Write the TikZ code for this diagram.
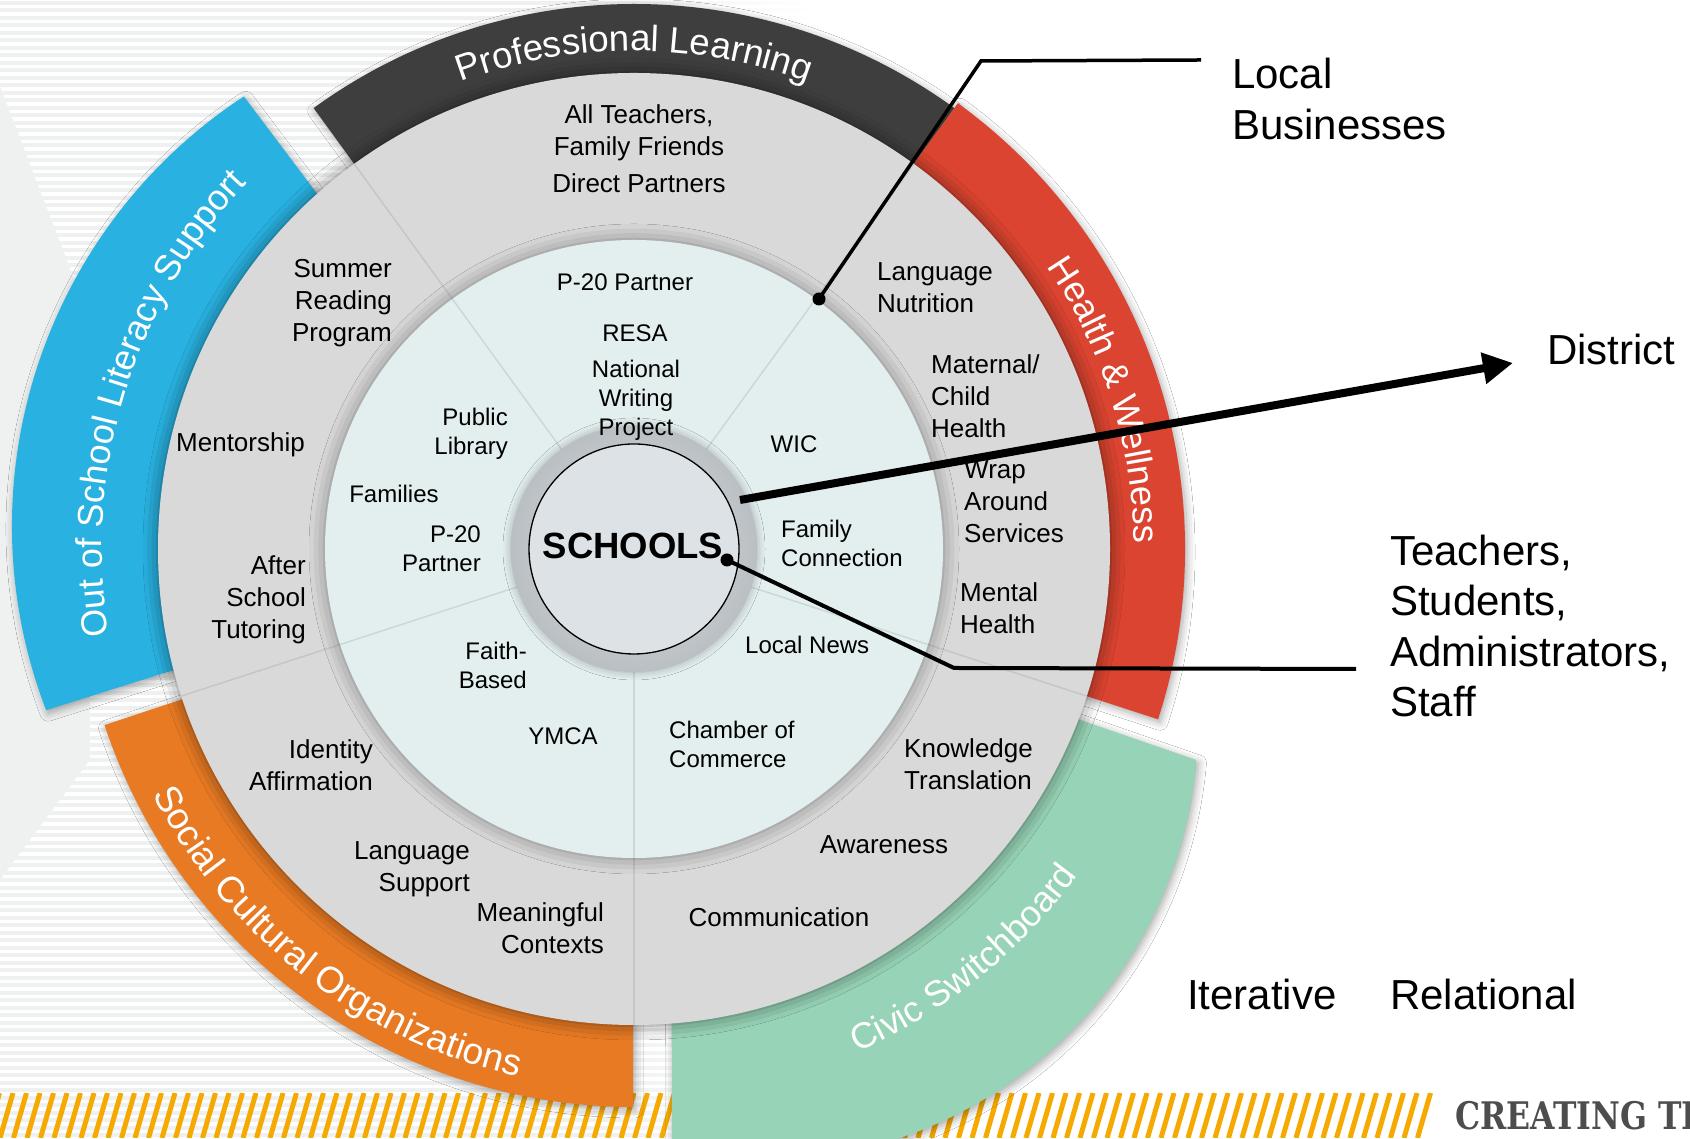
\documentclass[tikz,border=0pt]{standalone}
\usepackage{fontspec}
\setmainfont{Liberation Sans}
\newfontfamily\slabfont{DejaVu Serif}
\usetikzlibrary{calc,decorations.text,arrows.meta,shadows.blur}
\definecolor{darkband}{HTML}{3E3E3E}
\definecolor{redband}{HTML}{DA4430}
\definecolor{blueband}{HTML}{29B1E1}
\definecolor{orangeband}{HTML}{E87A23}
\definecolor{greenband}{HTML}{97D3B6}
\definecolor{ringgray}{HTML}{D9D9D9}
\definecolor{ringline}{HTML}{C6C6C6}
\definecolor{palefill}{HTML}{E3EEEE}
\definecolor{paleline}{HTML}{CCD8D8}
\definecolor{halogray}{HTML}{B9BFC2}
\definecolor{schoolfill}{HTML}{DCE2E5}
\definecolor{stripecol}{HTML}{F6A900}
\definecolor{bgflat}{HTML}{EFF1F0}
\definecolor{creategray}{HTML}{4D4D4D}
\begin{document}
\begin{tikzpicture}[x=1pt,y=1pt,
  outerlbl/.style={inner sep=0pt, font=\fontsize{26}{32}\selectfont},
  innerlbl/.style={inner sep=0pt, font=\fontsize{24}{29}\selectfont},
  sidelbl/.style={inner sep=0pt, font=\fontsize{42}{50.5}\selectfont, align=left, anchor=west},
  bandshadow/.style={blur shadow={shadow xshift=2pt, shadow yshift=-3pt, shadow blur radius=8pt, shadow opacity=35}},
  connector/.style={black, line width=3.5pt},
  dotmark/.style={circle, fill=black, inner sep=0pt, minimum size=13pt},
  bandtext/.style={decorate, decoration={text along path, text align=center, text color=white, text={#1}}},
]
\useasboundingbox (0,0) rectangle (1690,1139);
\clip (0,0) rectangle (1690,1139);
\fill[white] (0,0) rectangle (1690,1139);
% left background
\fill[bgflat] (0,0) rectangle (600,1139);
\shade[left color=bgflat, right color=white] (600,0) rectangle (820,1139);
\begin{scope}
  \clip (0,1053) -- (0,1139) -- (820,1139) -- (820,0) -- (0,0) -- (0,259) -- (90,379) -- (90,819) -- cycle;
  \foreach \k in {0,...,152} \draw[white, line width=3.2pt] (0,\k*7.5) -- (820,\k*7.5);
\end{scope}
% bottom stripes bar
\begin{scope}
  \clip (0,1) -- (1425,1) -- (1438,46) -- (0,46) -- cycle;
  \foreach \i in {-2,...,110} \draw[stripecol, line width=5pt] (\i*13.5,1) -- ++(13,45);
\end{scope}
\coordinate (M) at (634,590);
\coordinate (Cb) at (526,613);
\coordinate (Cg) at (760,416);
% coloured bands
\fill[darkband, bandshadow] ($(M)+(54:470)$) arc[start angle=54, end angle=126, radius=470] -- ($(M)+(126:545)$) arc[start angle=126, end angle=54, radius=545] -- cycle;
\fill[redband, bandshadow] ($(M)+(-18:470)$) arc[start angle=-18, end angle=54, radius=470] -- ($(M)+(54:551)$) arc[start angle=54, end angle=-18, radius=551] -- cycle;
\fill[blueband, bandshadow] ($(M)+(131.8:470)$) -- ($(Cb)+(123.3:514)$) arc[start angle=123.3, end angle=201, radius=514] -- ($(M)+(194.7:470)$) arc[start angle=194.7, end angle=131.8, radius=470] -- cycle;
\fill[orangeband, bandshadow] ($(M)+(198.4:470)$) arc[start angle=198.4, end angle=269.9, radius=470] -- ($(M)+(269.9:558)$) arc[start angle=269.9, end angle=198.4, radius=558] -- cycle;
\fill[greenband, bandshadow] ($(M)+(-21:470)$) -- ($(Cg)+(-4.85:438)$) arc[start angle=-4.85, end angle=-101.6, radius=438] -- ($(M)+(-85.4:470)$) arc[start angle=-85.4, end angle=-21, radius=470] -- cycle;
% band texts
\path[bandtext={|\fontsize{36.6}{36.6}\selectfont|Professional Learning}] ($(M)+(130:498)$) arc[start angle=130, end angle=50, radius=498];
\path[bandtext={|\fontsize{36}{36}\selectfont|Health {\&} Wellness}] ($(M)+(60:500)$) arc[start angle=60, end angle=-25, radius=500];
\path[bandtext={|\fontsize{36}{36}\selectfont|Out of School Literacy Support}] ($(M)+(205:532)$) arc[start angle=205, end angle=121, radius=532];
\path[bandtext={|\fontsize{37}{37}\selectfont|Social Cultural Organizations}] ($(M)+(195:540)$) arc[start angle=195, end angle=269.6, radius=540];
\path[bandtext={|\fontsize{36}{36}\selectfont|Civic Switchboard}] ($(M)+(-90:551)$) arc[start angle=-90, end angle=-12.4, radius=551];
% gray ring
\fill[ringgray, blur shadow={shadow xshift=0pt, shadow yshift=0pt, shadow blur radius=15pt, shadow opacity=50}] (M) circle[radius=476];
\foreach \a in {126,54,-18,-90,198} \draw[ringline, line width=1.5pt] ($(M)+(\a:300)$) -- ($(M)+(\a:476)$);
% pale disk
\fill[palefill, blur shadow={shadow xshift=0pt, shadow yshift=0pt, shadow blur radius=16pt, shadow opacity=40}] (M) circle[radius=309];
\foreach \a in {126,54,-18,-90,198} \draw[paleline, line width=1.5pt] ($(M)+(\a:115)$) -- ($(M)+(\a:309)$);
% schools hub
\shade[inner color=schoolfill, outer color=halogray, blur shadow={shadow xshift=0pt, shadow yshift=0pt, shadow blur radius=8pt, shadow opacity=30}] (M) circle[radius=123];
\fill[schoolfill] (M) circle[radius=105];
\draw[black, line width=1.3pt] (M) circle[radius=105];
\node[inner sep=0pt, font=\fontsize{36.5}{36.5}\selectfont\bfseries] (schools) at (633,593) {SCHOOLS};
% outer gray ring labels
\node[outerlbl, align=center] (allteach) at (639,990) {All Teachers,\\Family Friends\\[5pt]Direct Partners};
\node[outerlbl, align=right, anchor=east] (summer) at (392,836) {Summer\\Reading\\Program};
\node[outerlbl, anchor=west] (mentor) at (176,694) {Mentorship};
\node[outerlbl, align=right, anchor=east] (after) at (306,539) {After\\School\\Tutoring};
\node[outerlbl, align=right, anchor=east] (identity) at (373,374) {Identity\\Affirmation};
\node[outerlbl, align=right, anchor=east] (langsup) at (470,270) {Language\\Support};
\node[outerlbl, align=right, anchor=east] (meaning) at (604,211) {Meaningful\\Contexts};
\node[outerlbl, align=left, anchor=west] (knowledge) at (904,375) {Knowledge\\Translation};
\node[outerlbl] (aware) at (884,294) {Awareness};
\node[outerlbl] (comm) at (779,222) {Communication};
\node[outerlbl, align=left, anchor=west] (langnut) at (877,851) {Language\\Nutrition};
\node[outerlbl, align=left, anchor=west] (maternal) at (931,743) {Maternal/\\Child\\Health};
\node[outerlbl, align=left, anchor=west] (wrap) at (964,637) {Wrap\\Around\\Services};
\node[outerlbl, align=left, anchor=west] (mental) at (960,531) {Mental\\Health};
% inner pale labels
\node[innerlbl] (p20top) at (625,857) {P-20 Partner};
\node[innerlbl] (resa) at (635,806) {RESA};
\node[innerlbl, align=center] (nwp) at (636,739) {National\\Writing\\Project};
\node[innerlbl, align=right, anchor=east] (publib) at (508,705) {Public\\Library};
\node[innerlbl] (families) at (394,645) {Families};
\node[innerlbl, align=right, anchor=east] (p20left) at (481,590) {P-20\\Partner};
\node[innerlbl, align=right, anchor=east] (faith) at (527,474) {Faith-\\Based};
\node[innerlbl] (ymca) at (563,403) {YMCA};
\node[innerlbl, align=left, anchor=west] (chamber) at (669,395) {Chamber of\\Commerce};
\node[innerlbl, anchor=west] (localnews) at (745,494) {Local News};
\node[innerlbl] (wic) at (794,695) {WIC};
\node[innerlbl, align=left, anchor=west] (famconn) at (781,596) {Family\\Connection};
% side labels
\node[sidelbl] (local) at (1232,1040) {Local\\Businesses};
\node[sidelbl] (district) at (1547,789) {District};
\node[sidelbl] (teachers) at (1390,513) {Teachers,\\Students,\\Administrators,\\Staff};
\node[sidelbl] (iterative) at (1187,145) {Iterative};
\node[sidelbl] (relational) at (1390,145) {Relational};
\node[inner sep=0pt, anchor=west, xscale=0.83, text=creategray, font=\slabfont\bfseries\fontsize{38}{38}\selectfont] (creating) at (1455,23) {CREATING TH};
% connectors
\node[dotmark] (lbdot) at (819,840) {};
\coordinate (lbbend) at (981,1078);
\coordinate (lbend) at (1201,1079);
\draw[connector, line join=miter] (lbdot.center) -- (lbbend) -- (lbend);
\coordinate (dstart) at (740,639);
\coordinate (dtip) at (1513,776);
\draw[black, line width=8pt, -{Triangle[length=30pt, width=30pt]}] (dstart) -- (dtip);
\node[dotmark] (tdot) at (727,579) {};
\coordinate (tbend) at (954,471);
\coordinate (tend) at (1356,470);
\draw[black, line width=4pt, line join=miter] (tdot.center) -- (tbend) -- (tend);
\end{tikzpicture}
\end{document}
